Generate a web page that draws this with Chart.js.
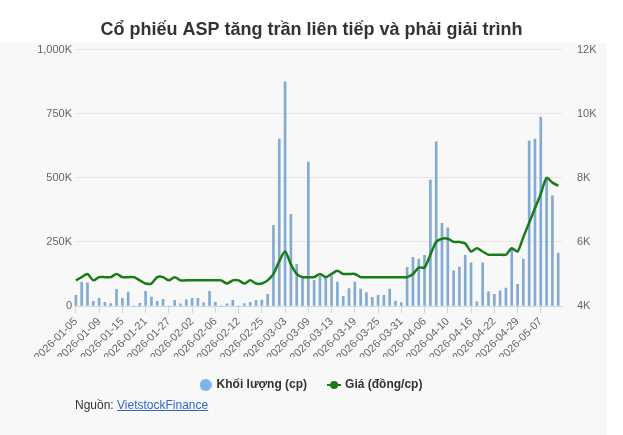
<!DOCTYPE html>
<html>
<head>
<meta charset="utf-8">
<script src="https://cdn.jsdelivr.net/npm/chart.js@4.4.1/dist/chart.umd.min.js"></script>
<style>
  html, body { margin: 0; padding: 0; background: #fff; }
  #wrap { position: relative; width: 623px; height: 435px; }
  #source { position: absolute; left: 75px; top: 398px; font: 12px "Liberation Sans", Arial, sans-serif; line-height: 14px; color: #333; }
  #source a { color: #3366cc; text-decoration: underline; }
</style>
</head>
<body>
<div id="wrap">
  <canvas id="aspChart" width="623" height="435"></canvas>
  <div id="source">Nguồn: <a href="#">VietstockFinance</a></div>
</div>
<script>
// Ngày giao dịch
const dates = [
  '2026-01-05', '2026-01-06', '2026-01-07', '2026-01-08', '2026-01-09', '2026-01-12', '2026-01-13', '2026-01-14',
  '2026-01-15', '2026-01-16', '2026-01-19', '2026-01-20', '2026-01-21', '2026-01-22', '2026-01-23', '2026-01-26',
  '2026-01-27', '2026-01-28', '2026-01-29', '2026-01-30', '2026-02-02', '2026-02-03', '2026-02-04', '2026-02-05',
  '2026-02-06', '2026-02-09', '2026-02-10', '2026-02-11', '2026-02-12', '2026-02-13', '2026-02-23', '2026-02-24',
  '2026-02-25', '2026-02-26', '2026-02-27', '2026-03-02', '2026-03-03', '2026-03-04', '2026-03-05', '2026-03-06',
  '2026-03-09', '2026-03-10', '2026-03-11', '2026-03-12', '2026-03-13', '2026-03-16', '2026-03-17', '2026-03-18',
  '2026-03-19', '2026-03-20', '2026-03-23', '2026-03-24', '2026-03-25', '2026-03-26', '2026-03-27', '2026-03-30',
  '2026-03-31', '2026-04-01', '2026-04-02', '2026-04-03', '2026-04-06', '2026-04-07', '2026-04-08', '2026-04-09',
  '2026-04-10', '2026-04-13', '2026-04-14', '2026-04-15', '2026-04-16', '2026-04-17', '2026-04-20', '2026-04-21',
  '2026-04-22', '2026-04-23', '2026-04-24', '2026-04-28', '2026-04-29', '2026-05-04', '2026-05-05', '2026-05-06',
  '2026-05-07', '2026-05-08', '2026-05-11', '2026-05-12'
];

// Khối lượng (cp)
const volumes = [
  42000, 92000, 90000, 18000, 30000, 14000, 9000, 65000, 30000, 54000,
  0, 10000, 57000, 35000, 18000, 26000, 0, 22000, 8000, 24000,
  30000, 30000, 12000, 57000, 14000, 0, 8000, 22000, 0, 9000,
  14000, 22000, 23000, 46000, 315000, 651000, 874000, 358000, 163000, 115000,
  561000, 100000, 117000, 117000, 117000, 93000, 38000, 68000, 93000, 66000,
  52000, 34000, 42000, 42000, 66000, 19000, 13000, 151000, 190000, 183000,
  198000, 491000, 640000, 322000, 305000, 137000, 152000, 198000, 168000, 16000,
  168000, 55000, 46000, 59000, 70000, 225000, 85000, 183000, 643000, 651000,
  737000, 500000, 430000, 206000
];

// Giá (đồng/cp)
const prices = [
  4800, 4900, 5000, 4800, 4900, 4900, 4900, 5000, 4900, 4900,
  4900, 4800, 4700, 4700, 4900, 4900, 4800, 4900, 4800, 4800,
  4800, 4800, 4800, 4800, 4800, 4800, 4700, 4800, 4800, 4700,
  4800, 4700, 4700, 4800, 5000, 5400, 5700, 5300, 5000, 4900,
  4900, 4900, 5000, 4900, 5000, 5100, 5000, 5000, 5000, 4900,
  4900, 4900, 4900, 4900, 4900, 4900, 4900, 4900, 5000, 5200,
  5200, 5600, 6000, 6100, 6100, 6000, 6000, 5950, 5700, 5800,
  5700, 5600, 5600, 5600, 5600, 5800, 5700, 6150, 6600, 7050,
  7500, 8000, 7850, 7750
];

const volTicks = [0, 250000, 500000, 750000, 1000000];
const priceTicks = [4000, 6000, 8000, 10000, 12000];

const barColor = '#82aad2';
const legendBlue = '#7cb5ec';
const lineColor = '#177d17';

Chart.defaults.font.family = '"Liberation Sans", Arial, sans-serif';

function makeIcon(w, h, draw) {
    const c = document.createElement('canvas');
    c.width = w;
    c.height = h;
    draw(c.getContext('2d'));
    return c;
}

const volIcon = makeIcon(12, 12, (ctx) => {
    ctx.fillStyle = legendBlue;
    ctx.beginPath();
    ctx.arc(6, 6, 6, 0, Math.PI * 2);
    ctx.fill();
});

const priceIcon = makeIcon(14, 12, (ctx) => {
    ctx.strokeStyle = lineColor;
    ctx.lineWidth = 2;
    ctx.beginPath();
    ctx.moveTo(0, 6);
    ctx.lineTo(14, 6);
    ctx.stroke();
    ctx.fillStyle = lineColor;
    ctx.beginPath();
    ctx.arc(7, 6, 4, 0, Math.PI * 2);
    ctx.fill();
});

// nền xám phía dưới tiêu đề
const bgPlugin = {
    id: 'bgPanel',
    beforeDraw(chart) {
        const ctx = chart.ctx;
        ctx.save();
        ctx.fillStyle = '#f8f8f8';
        ctx.fillRect(0, 43, 607, chart.height - 43);
        ctx.restore();
    },
};

const config = {
    type: 'bar',
    data: {
        datasets: [
            {
                label: 'Khối lượng (cp)',
                type: 'bar',
                data: volumes.map((v, i) => ({ x: i, y: v })),
                backgroundColor: barColor,
                barThickness: 2,
                yAxisID: 'y',
                order: 2,
                clip: 6,
            },
            {
                label: 'Giá (đồng/cp)',
                type: 'line',
                data: prices.map((v, i) => ({ x: i, y: v })),
                borderColor: lineColor,
                backgroundColor: lineColor,
                borderWidth: 2.5,
                pointRadius: 0,
                tension: 0.25,
                yAxisID: 'y1',
                order: 1,
            },
        ],
    },
    options: {
        responsive: false,
        animation: false,
        layout: { padding: { bottom: 34 } },
        scales: {
            x: {
                type: 'linear',
                offset: false,
                min: -0.15,
                max: dates.length - 0.35,
                afterBuildTicks: (s) => {
                    s.ticks = dates.map((d, i) => ({ value: i })).filter((t) => t.value % 4 === 0);
                },
                afterFit: (s) => { s.height = 51; },
                ticks: {
                    autoSkip: false,
                    maxRotation: 45,
                    minRotation: 45,
                    padding: 2,
                    color: '#666',
                    font: { size: 11 },
                    callback: (v) => dates[v],
                },
                grid: { offset: false, drawOnChartArea: false, drawTicks: true, tickLength: 7, color: '#ccd6eb' },
                border: { color: '#ccd6eb' },
            },
            y: {
                position: 'left',
                min: volTicks[0],
                max: volTicks[volTicks.length - 1],
                afterBuildTicks: (s) => { s.ticks = volTicks.map((v) => ({ value: v })); },
                afterFit: (s) => { s.width = 75; },
                ticks: {
                    color: '#666',
                    padding: 3,
                    font: { size: 11 },
                    callback: (v) => (v === 0 ? '0' : (v / 1000).toLocaleString('en-US') + 'K'),
                },
                grid: { color: '#e6e6e6', drawTicks: false },
                border: { display: false },
            },
            y1: {
                position: 'right',
                min: priceTicks[0],
                max: priceTicks[priceTicks.length - 1],
                afterBuildTicks: (s) => { s.ticks = priceTicks.map((v) => ({ value: v })); },
                afterFit: (s) => { s.width = 61; },
                ticks: {
                    color: '#666',
                    padding: 15,
                    font: { size: 11 },
                    callback: (v) => v / 1000 + 'K',
                },
                grid: { drawOnChartArea: false, drawTicks: false },
                border: { display: false },
            },
        },
        plugins: {
            title: {
                display: true,
                text: 'Cổ phiếu ASP tăng trần liên tiếp và phải giải trình',
                color: '#333',
                font: { size: 18, weight: 'bold' },
                padding: { top: 19, bottom: 9 },
            },
            legend: {
                display: true,
                position: 'bottom',
                labels: {
                    usePointStyle: true,
                    pointStyleWidth: 10,
                    padding: 22,
                    color: '#333',
                    font: { size: 12, weight: 'bold' },
                    generateLabels: (chart) => chart.data.datasets.map((ds, i) => ({
                        text: ds.label,
                        pointStyle: i === 0 ? volIcon : priceIcon,
                        fillStyle: ds.backgroundColor,
                        strokeStyle: ds.backgroundColor,
                        lineWidth: 0,
                        fontColor: '#333',
                        hidden: !chart.isDatasetVisible(i),
                        datasetIndex: i,
                    })),
                },
            },
            tooltip: { enabled: false },
        },
    },
    plugins: [bgPlugin],
};

const aspChart = new Chart(document.getElementById('aspChart'), config);
</script>
</body>
</html>
